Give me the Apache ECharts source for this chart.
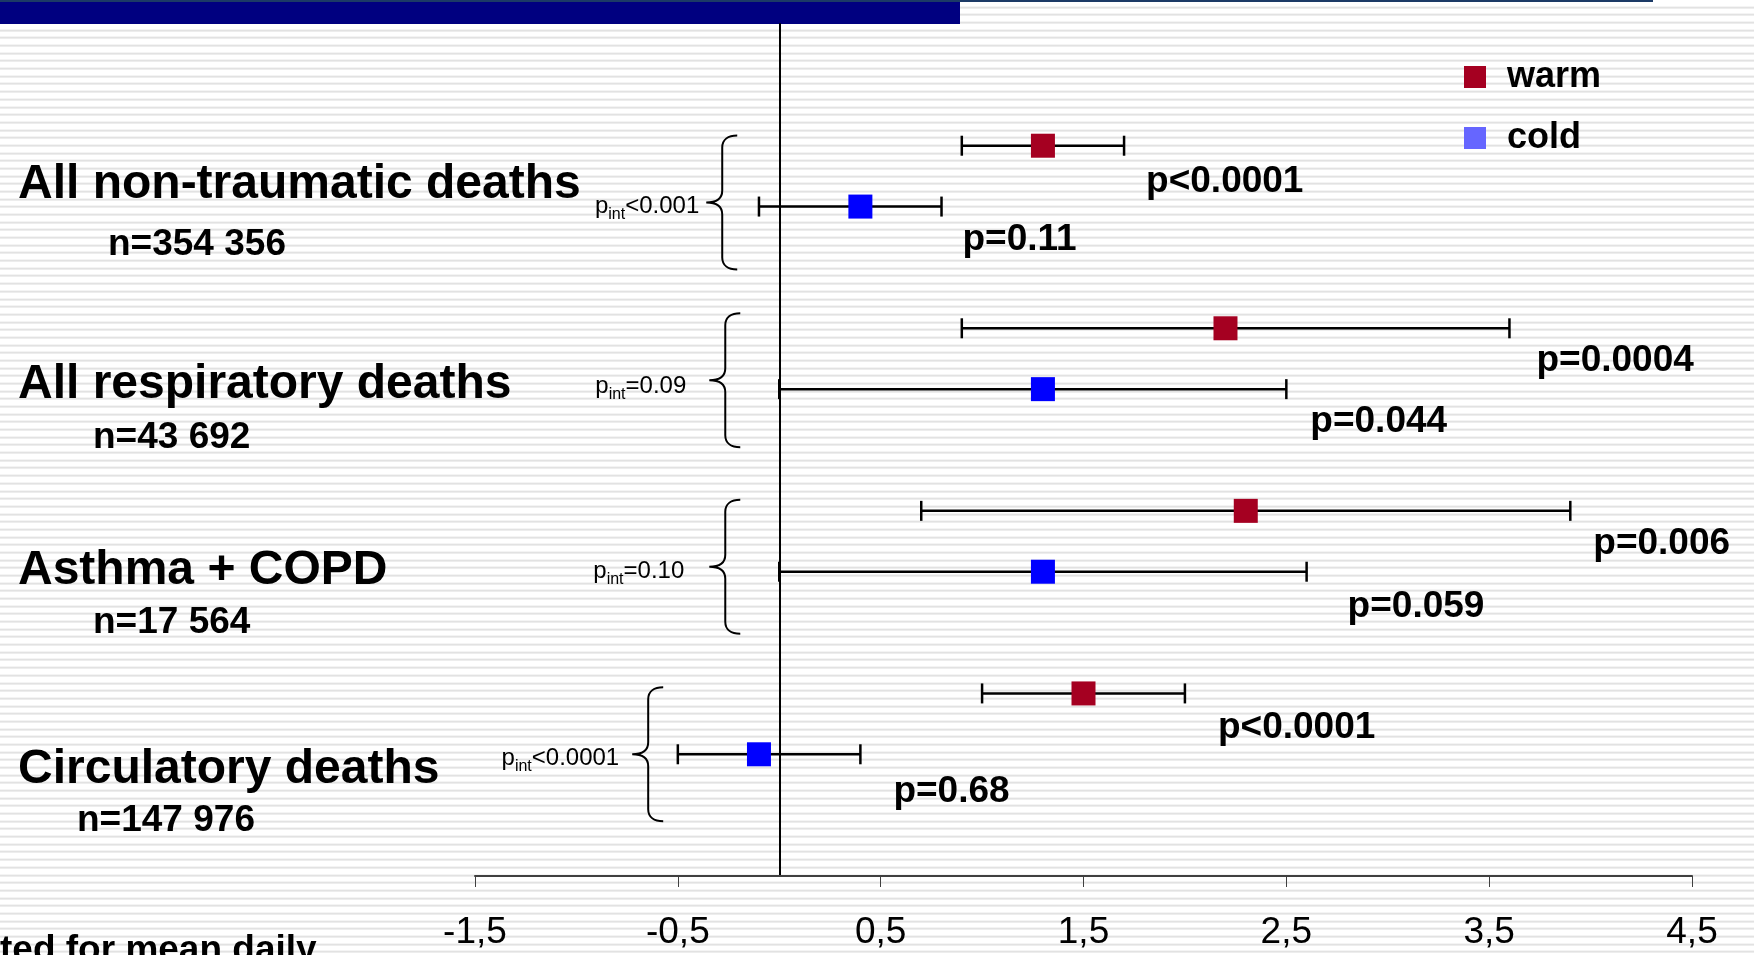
<!DOCTYPE html>
<html>
<head>
<meta charset="utf-8">
<script src="https://cdn.jsdelivr.net/npm/echarts@6/dist/echarts.min.js"></script>
<style>
html, body { margin: 0; padding: 0; }
#chart {
    width: 1754px;
    height: 955px;
    background: repeating-linear-gradient(to bottom, #ffffff 0px, #ffffff 5.68px, #e2e2e2 5.68px, #e2e2e2 7.68px);
    background-position: 0 0.62px;
}
</style>
</head>
<body>
<div id="chart"></div>
<script>
// 数据
var groupNames = ['All non-traumatic deaths', 'All respiratory deaths', 'Asthma + COPD', 'Circulatory deaths'];
var groupN = ['n=354 356', 'n=43 692', 'n=17 564', 'n=147 976'];
var warmEst = [1.3, 2.2, 2.3, 1.5];
var warmLo = [0.9, 0.9, 0.7, 1.0];
var warmHi = [1.7, 3.6, 3.9, 2.0];
var warmP = ['p<0.0001', 'p=0.0004', 'p=0.006', 'p<0.0001'];
var coldEst = [0.4, 1.3, 1.3, -0.1];
var coldLo = [-0.1, 0.0, 0.0, -0.5];
var coldHi = [0.8, 2.5, 2.6, 0.4];
var coldP = ['p=0.11', 'p=0.044', 'p=0.059', 'p=0.68'];
var pIntText = ['<0.001', '=0.09', '=0.10', '<0.0001'];
var xTicks = [-1.5, -0.5, 0.5, 1.5, 2.5, 3.5, 4.5];

// 布局
var FONT = '"Liberation Sans", Arial, sans-serif';
var braceTipX = [-0.36, -0.345, -0.345, -0.725];
var braceDy = [-4, -9, -5, 0];
var pIntGap = [7, 23, 25, 13];
var pIntDy = [0, -3, 0, 4];
var pOffWarm = [[22, 36], [27, 33], [23, 33], [33, 34]];
var pOffCold = [[21, 33], [24, 33], [41, 35], [33, 38]];
var titleY = [184.5, 384.5, 571, 769.5];
var nX = [108, 93, 93, 77];
var nY = [245, 438, 623, 821];

function warmRow(g) { return 2 + 3 * g; }
function coldRow(g) { return 3 + 3 * g; }

var ciRows = [];
for (var g = 0; g < groupNames.length; g++) {
    ciRows.push({ lo: warmLo[g], hi: warmHi[g], row: warmRow(g), p: warmP[g], off: pOffWarm[g] });
    ciRows.push({ lo: coldLo[g], hi: coldHi[g], row: coldRow(g), p: coldP[g], off: pOffCold[g] });
}

function renderCI(params, api) {
    var r = ciRows[params.dataIndex];
    var a = api.coord([r.lo, r.row]);
    var b = api.coord([r.hi, r.row]);
    var cap = 10;
    var st = { stroke: '#000', lineWidth: 2.5 };
    return {
        type: 'group',
        children: [
            { type: 'line', shape: { x1: a[0], y1: a[1], x2: b[0], y2: b[1] }, style: st },
            { type: 'line', shape: { x1: a[0], y1: a[1] - cap, x2: a[0], y2: a[1] + cap }, style: st },
            { type: 'line', shape: { x1: b[0], y1: b[1] - cap, x2: b[0], y2: b[1] + cap }, style: st },
            {
                type: 'text',
                x: b[0] + r.off[0],
                y: b[1] + r.off[1],
                style: {
                    text: r.p, fill: '#000', font: 'bold 37px ' + FONT,
                    textAlign: 'left', align: 'left', textVerticalAlign: 'middle', verticalAlign: 'middle'
                }
            }
        ]
    };
}

function bracePath(x, y) {
    var pts = [
        'M', 31, -67, 'C', 22, -67, 16, -63, 16, -55, 'L', 16, -12,
        'C', 16, -4, 10, 0, 0, 0, 'C', 10, 0, 16, 4, 16, 12,
        'L', 16, 55, 'C', 16, 63, 22, 67, 31, 67
    ];
    var s = '';
    var isX = true;
    for (var i = 0; i < pts.length; i++) {
        if (typeof pts[i] === 'string') { s += pts[i]; isX = true; continue; }
        s += (isX ? (x + pts[i]) : (y + pts[i])) + (isX ? ',' : ' ');
        isX = !isX;
    }
    return s;
}

function renderBrace(params, api) {
    var g = params.dataIndex;
    var tip = api.coord([braceTipX[g], coldRow(g)]);
    return {
        type: 'group',
        children: [
            {
                type: 'path',
                shape: { pathData: bracePath(tip[0], tip[1] + braceDy[g]) },
                style: { stroke: '#000', lineWidth: 2, fill: null }
            },
            {
                type: 'text',
                x: tip[0] - pIntGap[g],
                y: tip[1] + pIntDy[g],
                style: {
                    text: '{a|p}{b|int}{a|' + pIntText[g] + '}',
                    fill: '#000',
                    textAlign: 'right', align: 'right',
                    textVerticalAlign: 'middle', verticalAlign: 'middle',
                    rich: {
                        a: { fontSize: 24, fontFamily: FONT, lineHeight: 32, fill: '#000', color: '#000' },
                        b: { fontSize: 16, fontFamily: FONT, lineHeight: 17, verticalAlign: 'bottom', fill: '#000', color: '#000' }
                    }
                }
            }
        ]
    };
}

var graphics = [
    { type: 'rect', shape: { x: 0, y: 0, width: 1653, height: 2 }, style: { fill: '#1c3a66' } },
    { type: 'rect', shape: { x: 0, y: 2, width: 960, height: 22 }, style: { fill: '#000080' } },
    {
        type: 'text', x: 0, y: 951,
        style: { text: 'ted for mean daily', font: 'bold 37px ' + FONT, fill: '#000', textVerticalAlign: 'middle', verticalAlign: 'middle' }
    }
];
for (var k = 0; k < groupNames.length; k++) {
    graphics.push({
        type: 'text', x: 18, y: titleY[k],
        style: { text: groupNames[k], font: 'bold 48px ' + FONT, fill: '#000', textVerticalAlign: 'middle', verticalAlign: 'middle' }
    });
    graphics.push({
        type: 'text', x: nX[k], y: nY[k],
        style: { text: groupN[k], font: 'bold 37px ' + FONT, fill: '#000', textVerticalAlign: 'middle', verticalAlign: 'middle' }
    });
}

var chart = echarts.init(document.getElementById('chart'));

var option = {
    animation: false,
    backgroundColor: 'transparent',
    textStyle: { fontFamily: FONT },
    grid: { left: 475, right: 62, top: 24, bottom: 79 },
    xAxis: {
        type: 'value',
        min: -1.5,
        max: 4.5,
        axisLine: { show: true, onZero: false, lineStyle: { color: '#404040', width: 2 } },
        axisTick: { show: true, customValues: xTicks, length: 11, lineStyle: { color: '#404040', width: 1 } },
        axisLabel: {
            customValues: xTicks,
            fontSize: 37,
            color: '#000',
            fontFamily: FONT,
            margin: 38,
            formatter: function(v) { return String(v).replace('.', ','); }
        },
        splitLine: { show: false }
    },
    yAxis: {
        type: 'value',
        min: 0,
        max: 14,
        inverse: true,
        axisLine: { show: true, onZero: true, lineStyle: { color: '#000', width: 2 } },
        axisTick: { show: false },
        axisLabel: { show: false },
        splitLine: { show: false }
    },
    legend: {
        orient: 'vertical',
        left: 1459,
        top: 54,
        icon: 'rect',
        itemWidth: 22,
        itemHeight: 22,
        itemGap: 25,
        selectedMode: false,
        data: [
            { name: 'warm', itemStyle: { color: '#a50021', opacity: 1 } },
            { name: 'cold', itemStyle: { color: '#6666ff', opacity: 1 } }
        ],
        textStyle: { fontSize: 36, fontWeight: 'bold', fontFamily: FONT, color: '#000', padding: [0, 0, 0, 16], lineHeight: 36 }
    },
    graphic: graphics,
    series: [{
        name: 'ci',
        type: 'custom',
        renderItem: renderCI,
        encode: { x: [0, 1], y: 2 },
        data: ciRows.map(function(r) { return [r.lo, r.hi, r.row]; }),
        z: 3,
        silent: true
    }, {
        name: 'brace',
        type: 'custom',
        renderItem: renderBrace,
        encode: { x: 0, y: 1 },
        data: braceTipX.map(function(x, g) { return [x, coldRow(g)]; }),
        z: 3,
        silent: true
    }, {
        name: 'warm',
        type: 'scatter',
        symbol: 'rect',
        symbolSize: 24,
        itemStyle: { color: '#a50021', opacity: 1 },
        data: warmEst.map(function(v, g) { return [v, warmRow(g)]; }),
        z: 5
    }, {
        name: 'cold',
        type: 'scatter',
        symbol: 'rect',
        symbolSize: 24,
        itemStyle: { color: '#0000ff', opacity: 1 },
        data: coldEst.map(function(v, g) { return [v, coldRow(g)]; }),
        z: 5
    }]
};

chart.setOption(option);
</script>
</body>
</html>
